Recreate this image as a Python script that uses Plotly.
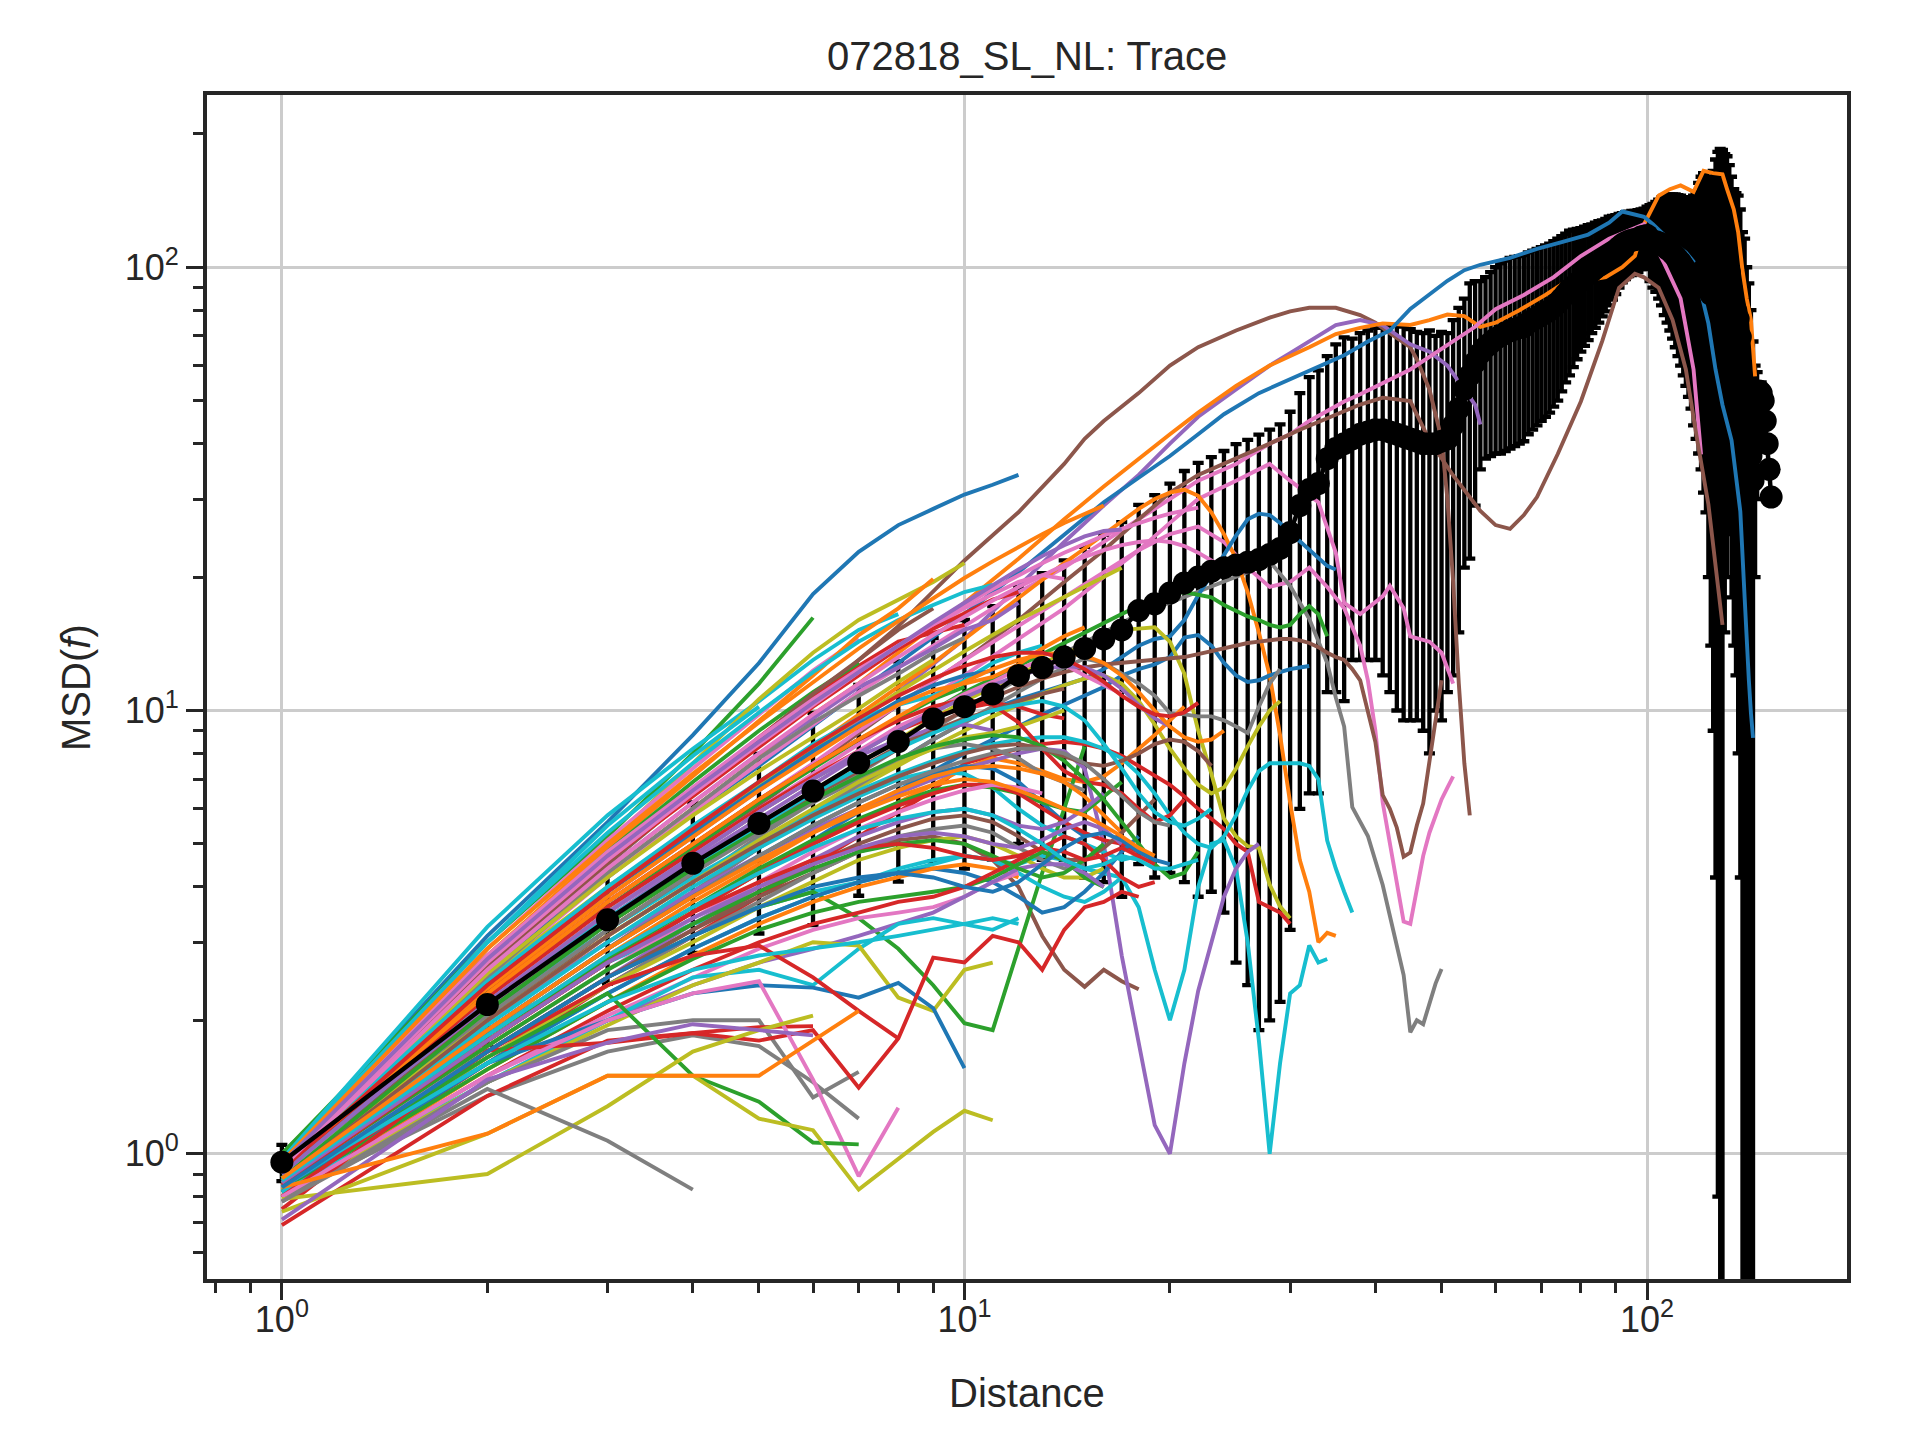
import plotly.graph_objects as go

# tab10 colours used by the per-track lines
BLUE = "#1f77b4"
ORANGE = "#ff7f0e"
GREEN = "#2ca02c"
RED = "#d62728"
PURPLE = "#9467bd"
BROWN = "#8c564b"
PINK = "#e377c2"
GRAY = "#7f7f7f"
OLIVE = "#bcbd22"
CYAN = "#17becf"

# mean MSD over all tracks, distance 1..152, and its spread (std)
mean_msd = [
    0.957, 2.17, 3.37, 4.52, 5.56, 6.58, 7.62, 8.51, 9.57, 10.2,
    10.9, 12.0, 12.5, 13.2, 13.8, 14.5, 15.2, 16.8, 17.4, 18.4,
    19.4, 20.0, 20.6, 21.0, 21.3, 21.6, 21.9, 22.5, 23.2, 25.2,
    29.0, 31.5, 32.5, 37.0, 39.0, 40.0, 41.0, 42.0, 42.5, 43.0,
    43.0, 42.5, 42.0, 41.5, 41.0, 40.5, 40.0, 40.0, 40.0, 40.5,
    41.0, 44.0, 48.0, 53.0, 57.0, 61.0, 64.0, 66.0, 67.5, 69.0,
    70.0, 71.0, 72.0, 72.5, 73.0, 73.5, 75.0, 76.0, 77.0, 78.0,
    79.0, 80.0, 81.5, 83.0, 85.0, 87.0, 89.0, 90.5, 92.0, 93.5,
    95.0, 96.5, 98.0, 99.5, 101.0, 102.5, 104.0, 106.0, 107.5, 109.0,
    111.0, 112.5, 113.5, 114.5, 115.0, 115.5, 116.0, 117.0, 117.5, 118.0,
    115.5, 114.5, 114.2, 113.5, 112.8, 111.5, 110.2, 109.0, 107.5, 106.0,
    104.2, 102.5, 100.5, 98.5, 96.8, 95.0, 94.5, 94.5, 96.5, 97.5,
    97.0, 94.0, 89.0, 87.0, 87.0, 89.6, 91.4, 82.5, 89.5, 97.5,
    99.0, 97.5, 89.0, 82.0, 79.5, 76.5, 69.6, 45.0, 53.0, 40.0,
    42.0, 37.5, 33.0, 40.0, 44.0, 52.6, 52.0, 50.0, 45.0, 40.0,
    35.0, 30.3,
]
mean_err = [
    0.09, 0.41, 0.95, 1.68, 2.42, 3.3, 3.8, 4.4, 5.0, 5.8,
    6.3, 7.0, 7.9, 8.6, 9.6, 10.4, 11.4, 12.3, 13.2, 14.1,
    15.3, 16.2, 16.7, 17.5, 18.6, 19.2, 20.0, 20.5, 21.0, 22.0,
    23.0, 25.0, 26.0, 26.0, 28.0, 29.5, 28.0, 29.0, 29.5, 30.0,
    31.0, 31.5, 32.0, 32.0, 31.5, 31.0, 31.0, 32.0, 30.0, 31.0,
    30.0, 32.0, 33.0, 32.0, 35.0, 32.0, 29.0, 29.0, 30.0, 31.0,
    32.0, 32.5, 33.0, 33.0, 33.0, 33.0, 33.0, 33.0, 33.0, 33.0,
    33.0, 33.0, 33.0, 33.0, 32.5, 32.0, 32.0, 31.0, 30.0, 29.0,
    28.5, 28.0, 27.0, 26.5, 26.0, 25.0, 24.5, 24.0, 23.0, 22.0,
    21.0, 20.0, 19.5, 19.0, 19.0, 18.5, 18.5, 18.0, 18.0, 19.0,
    22.5, 24.5, 26.2, 28.5, 30.8, 33.5, 35.2, 37.0, 38.5, 40.0,
    41.2, 42.5, 43.5, 44.5, 45.8, 47.0, 50.5, 53.5, 58.5, 62.5,
    66.0, 66.0, 69.0, 73.0, 78.0, 85.4, 90.6, 102.5, 94.5, 82.5,
    79.0, 72.5, 71.0, 68.0, 67.5, 68.5, 65.4, 75.0, 63.0, 60.0,
    50.0, 42.5, 35.0, 20.0, 14.0, 0.0, 3.0, 0.0, 0.0, 0.0,
    0.0, 0.0,
]
mean_dist = list(range(1, len(mean_msd) + 1))

# long tracks, read at sampled distances
orange_long_x = [1, 2, 3, 4, 5, 6, 7, 8, 10, 12, 14, 16, 18, 20, 22, 25, 28, 30, 32, 35, 38, 41, 45, 48,
                 51, 54, 57, 60, 65, 71, 75, 80, 87, 92, 96, 99, 104, 108, 112, 117, 121, 125,
                 129, 131, 134, 136, 138, 140, 142, 144]
orange_long_y = [0.95, 2.6, 4.3, 6.0, 7.8, 9.8, 11.5, 13.5, 17.5, 22, 27, 32, 37, 42, 47, 54, 60, 63, 66, 70.7,
                 73, 74.7, 74.1, 76, 78.2, 77.6, 73.4, 75, 80, 86.6, 91.5, 93, 95, 100, 106, 125, 145, 150,
                 153, 148, 165, 163, 162, 150, 135, 120, 98.5, 85, 76, 56.7]

blue_long_x = [1, 2, 3, 4, 5, 6, 7, 8, 10, 12, 14, 16, 18, 20, 22, 24, 27, 31, 36, 39, 42, 45, 51, 54, 57,
               63, 69, 75, 82, 88, 92, 99, 102, 108, 114, 117, 123, 126, 129, 133, 137, 139, 140, 141, 142, 143]
blue_long_y = [0.92, 2.6, 4.2, 5.9, 7.5, 9.2, 11, 12.8, 16.5, 20.5, 25, 29.5, 33.5, 37.5, 42, 46.6, 52, 57,
               63.3, 68, 72, 80.5, 93.2, 98.5, 101.3, 105, 110, 114, 118.5, 126, 133.6, 130, 125, 115, 108,
               103, 74.7, 58.8, 48.9, 40.7, 28.1, 18, 14, 11.7, 9.85, 8.67]

brown_peak_x = [1, 2, 3, 4, 5, 6, 7, 8, 9, 10, 12, 14, 15, 16, 18, 20, 22, 25, 28, 30, 32, 35, 38, 40, 42,
                45, 46, 48, 50, 51, 52, 53, 54, 55]
brown_peak_y = [1.0, 2.8, 4.6, 6.5, 8.5, 10.5, 13, 15.5, 18.5, 21.8, 28, 36, 41, 45, 52, 60, 66, 72, 77, 79.5,
                81, 81, 78, 75, 71, 66, 62, 53, 41, 30, 19.5, 11.5, 7.6, 5.8]

purple_top_x = [1, 2, 3, 4, 5, 6, 7, 8, 10, 12, 14, 16, 18, 20, 22, 25, 28, 30, 32, 35, 38, 41, 45, 48, 51,
                54, 56, 57]
purple_top_y = [0.9, 2.4, 3.8, 5.2, 6.6, 8, 9.5, 11, 14.5, 19, 24, 29, 34, 40, 46, 53, 60, 64, 68, 74, 76, 74,
                67, 64.5, 60, 52.7, 48.9, 44.2]

pink_long_x = [1, 2, 3, 4, 5, 6, 7, 8, 10, 12, 14, 16, 18, 20, 22, 25, 28, 30, 32, 36, 38, 45, 51, 56, 60,
               66, 73, 80, 88, 99, 106, 112, 117, 120]
pink_long_y = [0.93, 2.5, 4.2, 5.9, 7.6, 9.3, 11, 12.5, 15.5, 18.5, 21, 24, 27, 30, 33, 36, 40, 42, 45, 49.8,
               51.7, 58.8, 66.9, 73.4, 80.4, 86.6, 95, 106, 116, 125, 102, 85, 58.8, 37.8]

brown_dip_x = [1, 2, 3, 4, 5, 6, 7, 8, 10, 12, 14, 16, 18, 20, 22, 25, 28, 31, 35, 38, 41, 45, 48, 52, 57,
               60, 63, 66, 69, 74, 80, 86, 91, 96, 99, 104, 109, 114, 118, 123, 129]
brown_dip_y = [0.85, 2.2, 3.5, 4.8, 6.1, 7.5, 8.9, 10.3, 13, 16, 19.5, 23, 27, 31, 34, 37, 40, 43, 46.5, 49,
               50.8, 49.9, 40.7, 33.9, 28.2, 26.2, 25.7, 27.6, 30.3, 37.9, 49.8, 68.2, 89.9, 96.7, 94.9,
               89.9, 76.1, 58.8, 42.2, 29.2, 15.6]

pink_v45_x = [1, 2, 3, 4, 5, 6, 7, 8, 10, 12, 14, 16, 18, 20, 22, 24, 26, 28, 30, 32, 34, 36, 38, 39, 40,
              41, 42, 43, 44, 45, 46, 47, 48, 49, 50, 51, 52]
pink_v45_y = [0.9, 2.3, 3.7, 5.0, 6.3, 7.6, 9, 10.3, 13, 15.5, 18, 20.5, 23, 25, 26, 24, 21, 19, 19.5, 21,
              19, 17, 14, 11.7, 9, 6.2, 5, 4, 3.34, 3.3, 3.9, 4.7, 5.3, 5.8, 6.3, 6.7, 7.1]

pink_wavy_x = [1, 2, 3, 4, 5, 6, 7, 8, 10, 12, 14, 16, 18, 20, 22, 25, 28, 30, 33, 35, 36, 38, 41, 42, 44,
               45, 48, 50, 52]
pink_wavy_y = [0.92, 2.2, 3.5, 4.8, 6.0, 7.2, 8.4, 9.6, 12, 14.5, 17, 20, 23, 26.5, 30, 33, 36, 33, 29.5,
               22.7, 17.5, 16.5, 18.1, 19.1, 17, 14.7, 14.3, 13.5, 11.5]

gray_long_x = [1, 2, 3, 4, 5, 6, 7, 8, 10, 12, 14, 16, 18, 20, 22, 24, 26, 28, 30, 32, 34, 35, 36, 37, 39,
               41, 43, 44, 45, 46, 47, 49, 50]
gray_long_y = [0.85, 2.0, 3.1, 4.1, 5.2, 6.2, 7.2, 8.2, 10, 11.8, 13.5, 15, 16.5, 17.5, 18.5, 19.5, 20.5,
               21.7, 19.1, 16.1, 12.8, 10.7, 9.2, 6.05, 5.21, 4.04, 2.94, 2.53, 1.88, 2.0, 1.96, 2.42, 2.61]

# shorter tracks, one value per distance starting at 1
cyan_vv = [0.88, 1.9, 2.7, 3.3, 3.6, 3.9, 4.1, 4.3, 4.5, 4.7, 4.6, 4.5, 4.7, 4.6, 4.4, 4.3, 4.2, 3.6, 2.6,
           2.0, 2.6, 4.0, 5.0, 5.1, 4.4, 3.0, 1.8, 1.0, 1.6, 2.3, 2.4, 2.95, 2.7, 2.75]
orange_drop = [0.93, 2.4, 3.9, 5.3, 6.8, 8.3, 9.8, 11.3, 12.8, 14.5, 16.2, 18, 19.8, 21.5, 23.2, 25, 26.8,
               28.5, 30, 31, 31.5, 30.5, 28, 25, 22, 18.5, 15, 12, 8.8, 6.2, 4.6, 3.9, 3.0, 3.15, 3.1]
blue_mid = [0.9, 1.9, 2.9, 3.9, 4.9, 5.9, 6.8, 7.7, 8.6, 9.4, 10.1, 10.6, 11.0, 11.4, 11.8, 12.4, 13.2, 14.0,
            14.5, 14.7, 16, 18.2, 20.2, 22.5, 24.8, 27, 27.8, 27.6, 26.5, 25.2, 24.1, 23, 22, 21.2, 20.8]
blue_mid2 = [0.85, 1.8, 2.7, 3.5, 4.3, 5.1, 5.9, 6.6, 7.3, 8.0, 8.6, 9.2, 9.8, 10.3, 10.8, 11.3, 12.0, 12.4,
             12.7, 13.2, 14.6, 14.8, 14.0, 12.8, 12.0, 11.6, 11.7, 12.0, 12.2, 12.4, 12.5, 12.6]
green_long = [0.9, 2.2, 3.5, 4.7, 5.9, 7.0, 8.0, 9.0, 10.0, 11.0, 11.8, 12.6, 13.4, 14.2, 15.0, 15.8, 16.5,
              17.2, 17.8, 18.3, 18.5, 18.2, 18.0, 17.3, 16.8, 16.3, 16.0, 15.6, 15.4, 15.6, 16.5, 17.2,
              16.5, 14.7]
olive_drop = [0.9, 2.1, 3.3, 4.4, 5.5, 6.6, 7.6, 8.6, 9.6, 10.5, 11.3, 12.1, 12.8, 13.4, 14.0, 14.6, 15.2,
              15.3, 15.4, 14.3, 12.1, 9.0, 7.2, 5.7, 5.2, 4.94, 4.9, 4.05, 3.61, 3.4]
olive_wave = [0.88, 2.0, 3.1, 4.1, 5.0, 5.9, 6.7, 7.5, 8.3, 9.0, 9.7, 10.3, 10.9, 11.4, 11.8, 12, 11.5, 10.5,
              9.3, 8.2, 7.4, 6.8, 6.5, 6.7, 7.4, 8.3, 9.2, 10.0, 10.5]
gray_mid = [0.8, 1.9, 2.9, 3.9, 4.9, 5.8, 6.8, 7.7, 8.6, 9.4, 10.2, 11, 11.8, 12.5, 13.1, 12.8, 12.1, 11.5,
            10.8, 9.86, 9.8, 9.7, 9.7, 9.5, 9.2, 8.9, 10.2, 11.5, 12.4]
red_wave = [0.8, 1.6, 2.4, 3.1, 3.8, 4.5, 5.2, 5.9, 6.6, 7.6, 7.9, 8.2, 8.4, 8.5, 8.4, 8.2, 7.9, 7.5, 7.1,
            6.8, 6.4, 6.0, 5.7, 5.4, 5.0, 4.8, 3.7, 3.6, 3.5, 3.3]
orange_mid = [0.85, 1.8, 2.7, 3.5, 4.3, 5.0, 5.6, 6.2, 6.8, 7.4, 7.8, 7.6, 7.3, 7.0, 6.9, 7.1, 7.6, 8.2, 8.8,
              9.5, 10.2]
brown_low = [0.82, 1.7, 2.5, 3.2, 3.8, 4.3, 4.8, 5.1, 5.2, 5.0, 4.6, 4.0, 3.1, 2.6, 2.38, 2.6, 2.45, 2.35]
green_v = [0.9, 1.7, 2.5, 3.1, 3.6, 3.9, 3.4, 2.9, 2.4, 1.97, 1.9, 2.9, 4.3, 6.0, 8.3]
purple_v = [0.9, 2.0, 3.0, 3.9, 4.7, 5.4, 6.0, 6.5, 7.0, 7.4, 7.7, 8.0, 8.2, 8.1, 7.4, 5.0, 2.8, 1.8, 1.16,
            1.0, 1.6, 2.33, 3.0, 3.8, 4.4, 4.8, 5.0]
cyan_mid = [0.9, 2.1, 3.2, 4.2, 5.1, 5.9, 6.6, 7.2, 7.7, 8.1, 8.4, 8.6, 8.7, 8.7, 8.5, 8.2, 7.8, 7.2, 6.5,
            5.8, 5.3, 5.0, 4.9, 5.2, 5.8, 6.6, 7.3, 7.6, 7.6, 7.6, 7.6, 7.5, 7.0, 5.09, 4.4, 3.9, 3.5]
brown_v45 = [0.87, 2.0, 3.2, 4.3, 5.4, 6.4, 7.4, 8.3, 9.2, 10.0, 10.7, 11.3, 11.8, 12.2, 12.5, 12.7, 12.8,
             12.9, 13.0, 13.1, 13.2, 13.4, 13.6, 13.8, 14.0, 14.2, 14.3, 14.4, 14.5, 14.5, 14.4, 14.2, 13.9,
             13.5, 13.2, 13.0, 12.4, 11.7, 10.0, 8.49, 6.44, 6.0, 5.44, 4.68, 4.78, 5.5, 6.17, 7.6, 9.44,
             11.7]

blue_top = [0.98, 3.1, 5.6, 8.8, 12.8, 18.3, 22.8, 26.2, 28.5, 30.7, 32.3, 34.0]
green_top = [1.0, 3.0, 5.2, 8.0, 11.5, 16.2]
cyan_top = [0.97, 3.25, 5.8, 8.2, 10.5, 13.0, 15.2, 16.5]
olive_top = [0.95, 2.9, 5.0, 7.6, 10.6, 13.5, 16.0, 17.8, 19.5, 21.5]
olive_top2 = [0.95, 2.5, 4.0, 5.4, 6.8, 8.2, 9.6, 11, 12.3, 13.6, 14.8, 16, 17, 18, 19, 20, 21]
cyan_a = [0.96, 3.0, 5.5, 7.9, 10.2]
pink_a = [0.95, 2.9, 5.1, 7.4, 9.8, 12.3, 14.5]
orange_a = [0.97, 2.8, 4.9, 7.1, 9.5, 12.0, 14.8, 17.0, 19.8]
red_a = [0.93, 2.7, 4.6, 6.6, 8.7, 10.8, 12.6, 14.3, 15.0, 15.6]
green_a = [0.96, 2.75, 4.8, 6.9, 9.0, 11.0, 12.8]
purple_a = [0.92, 2.6, 4.4, 6.2, 8.0, 9.6, 11.3, 12.5, 13.8, 15.2, 16.0, 17.5]
brown_a = [0.94, 2.65, 4.5, 6.5, 8.6, 10.9, 13.0, 15.2, 17.0]
gray_a = [0.9, 2.5, 4.3, 6.0, 7.8, 9.4, 10.8, 12.1, 13.5, 14.6]
olive_a = [0.93, 2.55, 4.2, 5.8, 7.3, 8.7, 10.1, 11.6, 13.0]
cyan_b = [0.95, 2.45, 4.0, 5.5, 6.9, 8.4, 9.6, 10.3, 10.8, 11.7, 12.8, 13.5, 14.0]
blue_b = [0.91, 2.4, 3.9, 5.3, 6.7, 8.1, 9.3, 10.5, 11.4, 12.0, 12.3]
orange_b = [0.92, 2.35, 3.8, 5.2, 6.6, 7.9, 9.2, 10.3, 11.1, 11.5, 11.9, 12.7, 13.8, 14.7, 15.4]
green_b = [0.9, 2.3, 3.6, 4.9, 6.2, 7.4, 8.6, 9.6, 10.6, 11.3]
red_b = [0.93, 2.25, 3.6, 4.8, 6.0, 7.1, 8.1, 9.0, 9.7, 10.1, 10.4, 10.2, 9.8, 9.6]
pink_b = [0.9, 2.2, 3.5, 4.7, 5.9, 7.0, 8.1, 9.2, 10.0, 10.9, 11.6, 12.4, 13.0, 12.7, 12.0, 11.4, 10.9]
purple_b = [0.88, 2.15, 3.4, 4.6, 5.7, 6.8, 7.9, 8.6, 9.1, 9.3, 9.0]
brown_b = [0.9, 2.1, 3.3, 4.4, 5.4, 6.4, 7.3, 8.2, 9.0, 9.6, 10.0, 10.5, 10.9, 11.2]
gray_b = [0.87, 2.05, 3.2, 4.3, 5.3, 6.2, 7.0, 7.7, 8.2, 8.4, 8.2, 7.8, 7.2, 6.9, 6.6]
olive_b = [0.9, 2.0, 3.1, 4.1, 5.1, 6.0, 6.9, 7.6, 8.2, 8.7, 8.9, 9.2, 9.6, 10.0]
cyan_c = [0.88, 1.95, 3.0, 4.0, 4.9, 5.7, 6.4, 7.0, 7.3, 7.2, 6.7, 6.0, 5.5, 5.2, 5.0, 4.8, 4.6, 4.7]
blue_c = [0.86, 1.9, 2.9, 3.8, 4.7, 5.5, 6.2, 6.8, 7.2, 7.5, 7.4, 6.9, 6.2, 5.6, 5.2]
orange_c = [0.85, 1.85, 2.8, 3.7, 4.5, 5.3, 6.0, 6.6, 7.1, 7.4, 7.5, 7.4, 7.2, 6.9, 6.4, 5.8, 5.3]
green_c = [0.87, 1.85, 2.75, 3.6, 4.4, 5.1, 5.7, 6.2, 6.6, 6.8, 6.7, 6.5, 6.2, 6.0, 5.9, 6.4, 6.9]
red_c = [0.84, 1.8, 2.7, 3.5, 4.3, 5.0, 5.6, 6.1, 6.5, 6.8, 6.8, 6.5, 6.0, 5.6, 5.3, 5.1, 5.0, 4.8, 4.6]
pink_c = [0.85, 1.75, 2.6, 3.4, 4.1, 4.8, 5.4, 5.9, 6.3, 6.6, 6.8, 6.7, 6.5]
purple_c = [0.84, 1.7, 2.5, 3.3, 4.0, 4.6, 5.2, 5.6, 5.9, 6.0, 5.8, 5.5, 5.4, 5.6, 6.0, 6.5]
brown_c = [0.83, 1.7, 2.5, 3.2, 3.9, 4.5, 5.0, 5.4, 5.7, 5.8, 5.6, 5.2, 4.8, 4.6, 4.6, 4.9, 5.3, 5.8, 6.3]
gray_c = [0.82, 1.65, 2.4, 3.1, 3.7, 4.3, 4.8, 5.2, 5.4, 5.5, 5.3, 4.9, 4.6, 4.4, 4.5]
olive_c = [0.83, 1.65, 2.4, 3.0, 3.6, 4.1, 4.6, 4.9, 5.1, 5.2, 5.0, 4.7, 4.4, 4.2, 4.2, 4.4]
cyan_d = [0.84, 1.6, 2.3, 2.9, 3.4, 3.8, 4.1, 4.4, 4.6, 4.7, 4.6, 4.3, 4.0, 3.8, 3.7, 3.9, 4.2]
blue_d = [0.82, 1.6, 2.3, 2.9, 3.4, 3.8, 4.1, 4.3, 4.4, 4.3, 4.1, 3.8, 3.5, 3.6, 3.9, 4.3, 4.8, 5.2]
orange_d = [0.8, 1.55, 2.2, 2.8, 3.3, 3.7, 4.0, 4.2, 4.4, 4.5, 4.4, 4.2]
green_d = [0.82, 1.55, 2.2, 2.75, 3.2, 3.5, 3.7, 3.8, 3.9, 4.0, 4.2, 4.5, 4.8, 4.6, 4.2, 4.0]
red_d = [0.8, 1.5, 2.1, 2.6, 3.0, 3.3, 3.5, 3.7, 3.8, 4.0, 4.3, 4.6, 4.9, 5.2, 5.0, 4.6, 4.2, 4.0, 4.1]
pink_d = [0.8, 1.5, 2.05, 2.5, 2.9, 3.2, 3.4, 3.5, 3.6, 3.8, 4.1, 4.3]
purple_d = [0.78, 1.45, 2.0, 2.4, 2.7, 2.9, 3.1, 3.3, 3.5, 3.8, 4.1, 4.4, 4.5, 4.5, 4.3, 4.0]
cyan_e = [0.82, 1.45, 2.0, 2.5, 2.6, 2.4, 2.9, 3.3, 3.4, 3.3, 3.2, 3.4]
olive_d = [0.8, 1.45, 1.95, 2.4, 2.7, 3.0, 2.95, 2.25, 2.1, 2.6, 2.7]
gray_d = [0.78, 1.45, 1.9, 2.0, 2.0, 1.34, 1.53]
gray_e = [0.8, 1.35, 1.7, 1.85, 1.75, 1.45, 1.2]
blue_low = [0.85, 1.6, 2.0, 2.3, 2.4, 2.37, 2.25, 2.43, 2.13, 1.56]
red_v7 = [0.75, 1.71, 1.78, 1.87, 1.80, 1.90, 1.41, 1.82, 2.77, 2.70, 3.10, 3.0, 2.6, 3.2, 3.6, 3.7, 3.9, 3.8]
red_low = [0.69, 1.35, 1.8, 1.87, 1.93, 1.94]
red_e = [0.8, 1.7, 2.4, 2.8, 2.95, 2.5, 2.1, 1.82]
pink_v7 = [0.8, 1.5, 2.0, 2.3, 2.45, 1.47, 0.89, 1.27]
green_low = [0.85, 1.65, 2.3, 1.5, 1.31, 1.06, 1.05]
olive_v7 = [0.74, 1.11, 1.5, 1.5, 1.2, 1.13, 0.83, 0.97, 1.12, 1.25, 1.19]
olive_low = [0.79, 0.9, 1.28, 1.7, 1.9, 2.05]
gray_low = [0.78, 1.4, 1.07, 0.83]
purple_low = [0.71, 1.47, 1.78, 1.96, 1.9, 1.85]
orange_low = [0.84, 1.11, 1.5, 1.5, 1.5, 1.8, 2.1]
red_f = [0.9, 2.3, 3.7, 5.0, 6.3, 7.5, 8.6, 9.5, 10.2, 10.6, 10.3, 9.4, 8.2, 7.3, 6.9, 6.8, 6.5, 6.0, 5.6,
         5.8, 6.3]
green_f = [0.88, 2.1, 3.3, 4.4, 5.4, 6.3, 7.1, 7.8, 8.3, 8.6, 8.8, 8.7, 8.3, 7.7, 7.0, 6.3, 5.6, 5.0, 4.5,
           4.2, 4.3, 4.8]
brown_f = [0.87, 2.0, 3.1, 4.1, 5.0, 5.8, 6.5, 7.1, 7.6, 8.0, 8.3, 8.4, 8.2, 7.9, 7.6, 7.5, 7.7, 8.0, 8.4,
           8.6, 8.5, 8.1, 7.5]
cyan_f = [0.9, 2.2, 3.4, 4.5, 5.5, 6.5, 7.4, 8.2, 8.9, 9.5, 10.0, 10.3, 10.5, 10.2, 9.5, 8.4, 7.4, 6.5, 5.9,
          5.6, 5.5, 5.7, 6.0]
purple_f = [0.9, 2.2, 3.5, 4.7, 5.9, 7.0, 8.0, 9.0, 9.9, 10.7, 11.4, 12.0, 12.4, 12.6, 12.5, 12.0, 11.2,
            10.3, 9.6, 9.2]
orange_f = [0.93, 2.3, 3.7, 5.0, 6.3, 7.5, 8.6, 9.7, 10.7, 11.6, 12.4, 13.0, 13.4, 13.5, 13.3, 12.8, 12.0,
            11.0, 10.0, 9.2, 8.7, 8.5, 8.6, 9.0]
gray_f = [0.86, 1.9, 2.9, 3.8, 4.7, 5.5, 6.2, 6.8, 7.3, 7.7, 8.0, 8.2, 8.2, 8.0, 7.6, 7.0, 6.4, 5.9, 5.6, 5.5]
red_g = [0.92, 2.4, 3.9, 5.4, 6.9, 8.3, 9.6, 10.8, 11.8, 12.6, 13.2, 13.5, 13.5, 13.1, 12.4, 11.6, 10.8,
         10.2, 9.8, 9.7, 9.9, 10.4]
pink_g = [0.96, 2.8, 4.8, 6.7, 8.7, 10.6, 12.4, 14.0, 15.5, 17.0, 18.3, 19.5, 20.2, 19.8]
red_h = [0.95, 2.7, 4.6, 6.4, 8.3, 10.2, 12.0, 13.8, 15.3, 16.6, 17.8, 18.5]
cyan_g = [0.97, 3.0, 5.3, 7.6, 9.9, 12.2, 14.3, 16.0, 17.3, 18.5, 19.2]
orange_g = [0.96, 2.9, 5.0, 7.2, 9.4, 11.6, 13.8, 15.9, 17.9, 19.9, 21.7, 23.4, 25.0, 26.5, 27.8, 29.0]
pink_h = [0.94, 2.7, 4.6, 6.5, 8.4, 10.3, 12.2, 14.0, 15.7, 17.3, 18.8, 20.2, 21.5, 22.7, 23.8, 24.8, 25.7,
          26.5, 27.2, 27.8, 28.3, 28.7]
pink_i = [0.93, 2.6, 4.4, 6.2, 8.0, 9.8, 11.5, 13.2, 14.8, 16.3, 17.7, 19.0, 20.2, 21.3, 22.2, 23.0, 23.6,
          24.0, 24.2, 24.0, 23.5, 22.7, 21.8, 21.0, 20.5, 20.6, 21.2, 22.0]
purple_g = [0.95, 2.75, 4.7, 6.6, 8.5, 10.4, 12.2, 14.0, 15.8, 17.5, 19.2, 20.8, 22.3, 23.6, 24.7, 25.4, 25.6]
cyan_h = [0.85, 1.6, 2.2, 2.6, 2.8, 2.9, 3.0, 3.1, 3.2, 3.3, 3.4, 3.3]
green_h = [0.86, 1.75, 2.6, 3.3, 3.9, 4.4, 4.8, 5.0, 5.1, 5.0, 4.7, 4.4, 4.2, 4.3, 4.6, 5.0]
red_i = [0.85, 1.8, 2.7, 3.5, 4.1, 4.6, 4.9, 5.0, 4.9, 4.7, 4.6, 4.7, 4.9, 4.8, 4.6, 4.7, 4.9, 4.7, 4.5]
purple_h = [0.86, 1.8, 2.7, 3.4, 4.0, 4.5, 4.9, 5.2, 5.3, 5.2, 5.0, 4.9, 5.1, 5.4, 5.6, 5.4, 5.0]
blue_h = [0.84, 1.7, 2.5, 3.1, 3.6, 4.0, 4.2, 4.3, 4.2, 4.0, 3.9, 4.1, 4.5, 4.9, 5.2, 5.3, 5.1, 4.8, 4.6, 4.5]
cyan_i = [0.87, 1.85, 2.8, 3.6, 4.3, 4.9, 5.4, 5.7, 5.9, 6.0, 5.8, 5.4, 5.0, 4.6, 4.4, 4.5, 4.7, 4.6, 4.4,
          4.4, 4.5, 4.6]
orange_h = [0.88, 1.9, 2.9, 3.8, 4.6, 5.3, 5.9, 6.4, 6.8, 7.0, 6.9, 6.6, 6.3, 6.0, 5.8, 5.5, 5.2, 4.9, 4.7]

long_tracks = [
    (BROWN, brown_peak_x, brown_peak_y),
    (PURPLE, purple_top_x, purple_top_y),
    (ORANGE, orange_long_x, orange_long_y),
    (BLUE, blue_long_x, blue_long_y),
    (PINK, pink_long_x, pink_long_y),
    (BROWN, brown_dip_x, brown_dip_y),
    (PINK, pink_v45_x, pink_v45_y),
    (PINK, pink_wavy_x, pink_wavy_y),
    (GRAY, gray_long_x, gray_long_y),
]
short_tracks = [
    (CYAN, cyan_vv), (ORANGE, orange_drop), (BLUE, blue_mid), (BLUE, blue_mid2), (GREEN, green_long),
    (OLIVE, olive_drop), (OLIVE, olive_wave), (GRAY, gray_mid), (RED, red_wave), (ORANGE, orange_mid),
    (BROWN, brown_low), (GREEN, green_v), (PURPLE, purple_v), (CYAN, cyan_mid), (BROWN, brown_v45),
    (BLUE, blue_top), (GREEN, green_top), (CYAN, cyan_top), (OLIVE, olive_top), (OLIVE, olive_top2),
    (CYAN, cyan_a), (PINK, pink_a), (ORANGE, orange_a), (RED, red_a), (GREEN, green_a), (PURPLE, purple_a),
    (BROWN, brown_a), (GRAY, gray_a), (OLIVE, olive_a), (CYAN, cyan_b), (BLUE, blue_b), (ORANGE, orange_b),
    (GREEN, green_b), (RED, red_b), (PINK, pink_b), (PURPLE, purple_b), (BROWN, brown_b), (GRAY, gray_b),
    (OLIVE, olive_b), (CYAN, cyan_c), (BLUE, blue_c), (ORANGE, orange_c), (GREEN, green_c), (RED, red_c),
    (PINK, pink_c), (PURPLE, purple_c), (BROWN, brown_c), (GRAY, gray_c), (OLIVE, olive_c), (CYAN, cyan_d),
    (BLUE, blue_d), (ORANGE, orange_d), (GREEN, green_d), (RED, red_d), (PINK, pink_d), (PURPLE, purple_d),
    (CYAN, cyan_e), (OLIVE, olive_d), (GRAY, gray_d), (GRAY, gray_e), (BLUE, blue_low), (RED, red_v7),
    (RED, red_low), (RED, red_e), (PINK, pink_v7), (GREEN, green_low), (OLIVE, olive_v7), (OLIVE, olive_low),
    (GRAY, gray_low), (PURPLE, purple_low), (ORANGE, orange_low), (RED, red_f), (GREEN, green_f),
    (BROWN, brown_f), (CYAN, cyan_f), (PURPLE, purple_f), (ORANGE, orange_f), (GRAY, gray_f), (RED, red_g),
    (PINK, pink_g), (RED, red_h), (CYAN, cyan_g), (ORANGE, orange_g), (PINK, pink_h), (PINK, pink_i),
    (PURPLE, purple_g), (CYAN, cyan_h), (GREEN, green_h), (RED, red_i), (PURPLE, purple_h), (BLUE, blue_h),
    (CYAN, cyan_i), (ORANGE, orange_h),
]

x_tick_vals = [1, 10, 100]
x_tick_text = ["10<sup>0</sup>", "10<sup>1</sup>", "10<sup>2</sup>"]
x_minor_vals = [0.8, 0.9, 2, 3, 4, 5, 6, 7, 8, 9, 20, 30, 40, 50, 60, 70, 80, 90]
y_tick_vals = [1, 10, 100]
y_tick_text = ["10<sup>0</sup>", "10<sup>1</sup>", "10<sup>2</sup>"]
y_minor_vals = [0.6, 0.7, 0.8, 0.9, 2, 3, 4, 5, 6, 7, 8, 9, 20, 30, 40, 50, 60, 70, 80, 90, 200]

FONT = "Liberation Sans, Arial, sans-serif"
INK = "#262626"

fig = go.Figure()

# error bars of the mean go underneath the single tracks
fig.add_trace(go.Scatter(
    x=mean_dist, y=mean_msd, mode="markers",
    marker=dict(size=1, color="rgba(0,0,0,0)"),
    error_y=dict(type="data", array=mean_err, visible=True, color="black", thickness=4.3, width=5.5),
    hoverinfo="skip",
))

for color, xs, ys in long_tracks:
    fig.add_trace(go.Scatter(x=xs, y=ys, mode="lines", line=dict(color=color, width=3.9)))

for color, ys in short_tracks:
    fig.add_trace(go.Scatter(x=list(range(1, len(ys) + 1)), y=ys, mode="lines",
                             line=dict(color=color, width=3.9)))

# mean line and dots on top
fig.add_trace(go.Scatter(
    x=mean_dist, y=mean_msd, mode="lines+markers",
    line=dict(color="black", width=4.5),
    marker=dict(color="black", size=23),
))

axis_common = dict(
    type="log",
    showline=True, linecolor=INK, linewidth=4, mirror=True,
    ticks="outside", ticklen=17, tickwidth=3.3, tickcolor=INK,
    showgrid=True, gridcolor="#cccccc", gridwidth=3,
    zeroline=False,
    tickfont=dict(family=FONT, size=36, color=INK),
)

# the browser page adds an 8 px body margin, so the margins are trimmed by that much
fig.update_layout(
    width=1920, height=1440,
    margin=dict(l=199, r=81, t=87, b=169),
    paper_bgcolor="white", plot_bgcolor="white",
    showlegend=False,
    font=dict(family=FONT, color=INK),
    xaxis=dict(
        axis_common, range=[-0.1097, 2.293],
        tickmode="array", tickvals=x_tick_vals, ticktext=x_tick_text,
        ticklabelstandoff=-11,
        minor=dict(tickmode="array", tickvals=x_minor_vals, ticks="outside", ticklen=10,
                   tickwidth=2.6, tickcolor=INK, showgrid=False),
    ),
    yaxis=dict(
        axis_common, range=[-0.2826, 2.3886],
        tickmode="array", tickvals=y_tick_vals, ticktext=y_tick_text,
        minor=dict(tickmode="array", tickvals=y_minor_vals, ticks="outside", ticklen=10,
                   tickwidth=2.6, tickcolor=INK, showgrid=False),
    ),
    annotations=[
        dict(text="072818_SL_NL: Trace", xref="paper", yref="paper", x=0.5, y=1.0328,
             xanchor="center", yanchor="middle", showarrow=False,
             font=dict(family=FONT, size=40, color=INK)),
        dict(text="Distance", xref="paper", yref="paper", x=0.5, y=-0.096,
             xanchor="center", yanchor="middle", showarrow=False,
             font=dict(family=FONT, size=40, color=INK)),
        dict(text="MSD(<i>f</i>)", xref="paper", yref="paper", x=-0.0799, y=0.5,
             xanchor="center", yanchor="middle", textangle=-90, showarrow=False,
             font=dict(family=FONT, size=40, color=INK)),
    ],
)

fig.write_html("out.html")
